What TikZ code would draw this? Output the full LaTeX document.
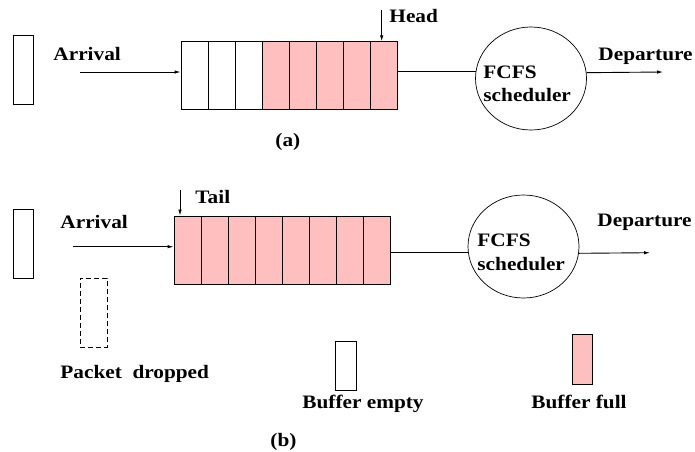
\documentclass[tikz,border=0pt]{standalone}
\usepackage{fontspec}
\setmainfont{Liberation Serif}[FakeStretch=1.12]
\usetikzlibrary{arrows.meta,shapes.geometric}
\definecolor{fullpink}{RGB}{255,191,191}
\begin{document}
\begin{tikzpicture}[x=1pt,y=-1pt,line width=0.9pt,
  lbl/.style={anchor=base west,inner sep=0pt,font=\fontsize{19}{19}\selectfont\bfseries},
  cell/.style={draw,minimum width=27pt,minimum height=68pt,inner sep=0pt},
  emptycell/.style={cell,fill=white},
  fullcell/.style={cell,fill=fullpink},
  packet/.style={draw,minimum width=20pt,minimum height=69pt,inner sep=0pt},
  sched/.style={draw,ellipse,minimum width=111pt,minimum height=103pt,inner sep=0pt,line width=0.7pt},
  arr/.style={-{Latex[length=6pt,width=3.5pt]}}]
\useasboundingbox (0,0) rectangle (695,451);

% ---------- (a) queue with empty slots ----------
\node[packet] (pa) at (23,69.5) {};
\node[lbl] (arrA) at (53,60) {Arrival};
\coordinate (inA) at (80,72);
\foreach \i in {1,2,3} \node[emptycell] (a\i) at ({181+27*(\i-0.5)},75.8) {};
\foreach \i in {4,...,8} \node[fullcell] (a\i) at ({181+27*(\i-0.5)},75.8) {};
\draw[arr] (inA) -- (inA -| a1.west);
\coordinate (headtop) at (381.7,10);
\draw[arr] (headtop) -- (headtop |- a8.north);
\node[lbl] (headlbl) at (389,22) {Head};
\node[sched] (sa) at (531,78.5) {};
\draw (sa.173.3) -- (sa.173.3 -| a8.east);
\node[lbl] (fa) at (483,78) {FCFS};
\node[lbl] (sca) at (483,101.5) {scheduler};
\coordinate (outA) at (663,72);
\draw[arr] (sa.6.7) -- (outA);
\node[lbl] (depA) at (598,60) {Departure};
\node[lbl] (capA) at (275,146) {(a)};

% ---------- (b) full queue, packet dropped ----------
\node[packet] (pb) at (23,243.5) {};
\node[lbl] (arrB) at (60,228) {Arrival};
\coordinate (inB) at (73,246.7);
\foreach \i in {1,...,8} \node[fullcell] (b\i) at ({174+27*(\i-0.5)},250) {};
\draw[arr] (inB) -- (inB -| b1.west);
\coordinate (tailtop) at (180,190);
\draw[arr] (tailtop) -- (tailtop |- b1.north);
\node[lbl] (taillbl) at (195,203) {Tail};
\node[sched] (sb) at (523.5,246.5) {};
\draw (sb.186.4) -- (sb.186.4 -| b8.east);
\node[lbl] (fb) at (477,246.7) {FCFS};
\node[lbl] (scb) at (477,270.7) {scheduler};
\coordinate (outB) at (650,252.7);
\draw[arr] (sb.353.6) -- (outB);
\node[lbl] (depB) at (597,226.7) {Departure};

\node[draw,dash pattern=on 5pt off 3pt,minimum width=27pt,minimum height=69pt,inner sep=0pt] (drop) at (93.5,312.5) {};
\node[lbl] (droplbl) at (60,378) {Packet\ \ dropped};

\node[draw,fill=white,minimum width=21pt,minimum height=49pt,inner sep=0pt] (keyempty) at (345.5,365.5) {};
\node[lbl] (emptylbl) at (302,408) {Buffer empty};
\node[draw,fill=fullpink,minimum width=20pt,minimum height=50pt,inner sep=0pt] (keyfull) at (582,359) {};
\node[lbl] (fulllbl) at (531,408) {Buffer full};
\node[lbl] (capB) at (270,446) {(b)};
\end{tikzpicture}
\end{document}
